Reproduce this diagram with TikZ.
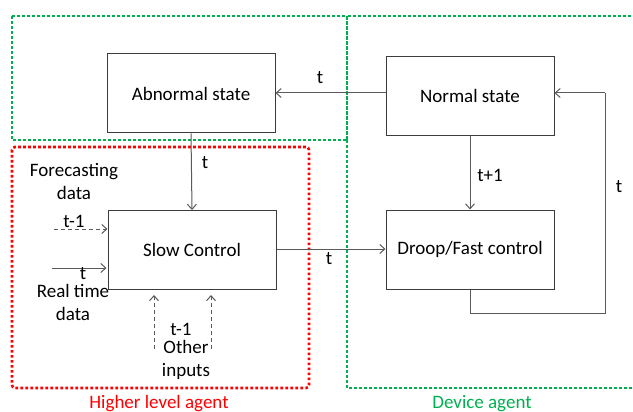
\documentclass[tikz,border=0pt]{standalone}
\usepackage{fontspec}
\setmainfont{Carlito}
\usetikzlibrary{arrows.meta}
\definecolor{offgreen}{RGB}{0,176,80}
\definecolor{linegray}{RGB}{90,90,90}
\definecolor{boxgray}{RGB}{60,60,60}
\begin{document}
\begin{tikzpicture}[x=1pt,y=-1pt,
  font=\fontsize{19}{23}\selectfont,
  blk/.style={draw=boxgray,line width=1pt,minimum width=168pt,minimum height=79pt,inner sep=0pt},
  conn/.style={draw=linegray,line width=1pt,-{Straight Barb[length=5pt,width=9pt]}},
  plainline/.style={draw=linegray,line width=1pt},
  dconn/.style={conn,dash pattern=on 4pt off 3pt},
  grbox/.style={draw=offgreen,line width=2.6pt,dash pattern=on 2.6pt off 2.4pt},
  rdbox/.style={draw=red,line width=2.6pt,dash pattern=on 2.6pt off 2.4pt,rounded corners=3pt},
  lbl/.style={inner sep=0pt,align=center}]
\useasboundingbox (0,0) rectangle (633,412);
% agent regions
\draw[grbox] (12,16) rectangle (347,140);
\draw[grbox] (347,140) -- (347,16) -- (640,16);
\draw[grbox] (347,140) -- (347,388) -- (640,388);
\draw[rdbox] (12,147) rectangle (309,388);
% blocks
\node[blk] (abn) at (191,93.5) {Abnormal state};
\node[blk] (nor) at (470,96) {Normal state};
\node[blk] (slow) at (192,250) {Slow Control};
\node[blk] (droop) at (470,249.5) {Droop/Fast control};
% connectors
\draw[conn] (nor.west |- 0,93) -- (abn.east |- 0,93);
\draw[conn] (abn.south) -- (slow.north);
\draw[conn] (nor.south) -- (droop.north);
\draw[conn] (slow.east |- 0,249) -- (droop.west |- 0,249);
\coordinate (fb1) at (470,313);
\coordinate (fb2) at (605,313);
\coordinate (fb3) at (605,93);
\draw[plainline] (droop.south) -- (fb1) -- (fb2) -- (fb3);
\draw[conn] (fb3) -- (nor.east |- fb3);
% inputs
\coordinate (fin) at (54,229);
\coordinate (rin) at (52,268);
\coordinate (o1) at (154,349);
\coordinate (o2) at (211,349);
\draw[dconn] (fin) -- (slow.west |- fin);
\draw[conn] (rin) -- ([xshift=-1pt]slow.west |- rin);
\draw[dconn] (o1) -- (154,295);
\draw[dconn] (o2) -- (211,295);
% labels
\node[lbl] (l1) at (320,78) {t};
\node[lbl] (l2) at (205,163) {t};
\node[lbl] (l3) at (490,175) {t+1};
\node[lbl] (l4) at (329,259) {t};
\node[lbl] (l5) at (619,187) {t};
\node[lbl] (fc) at (74,182) {Forecasting\\data};
\node[lbl] (l6) at (74,221) {t-1};
\node[lbl] (l7) at (83,274) {t};
\node[lbl] (rt) at (73,302) {Real time\\data};
\node[lbl] (l8) at (181,329) {t-1};
\node[lbl] (oi) at (186,360) {Other\\inputs};
\node[lbl,text=red] (hla) at (159,404) {Higher level agent};
\node[lbl,text=offgreen] (da) at (482,404) {Device agent};
\end{tikzpicture}
\end{document}
